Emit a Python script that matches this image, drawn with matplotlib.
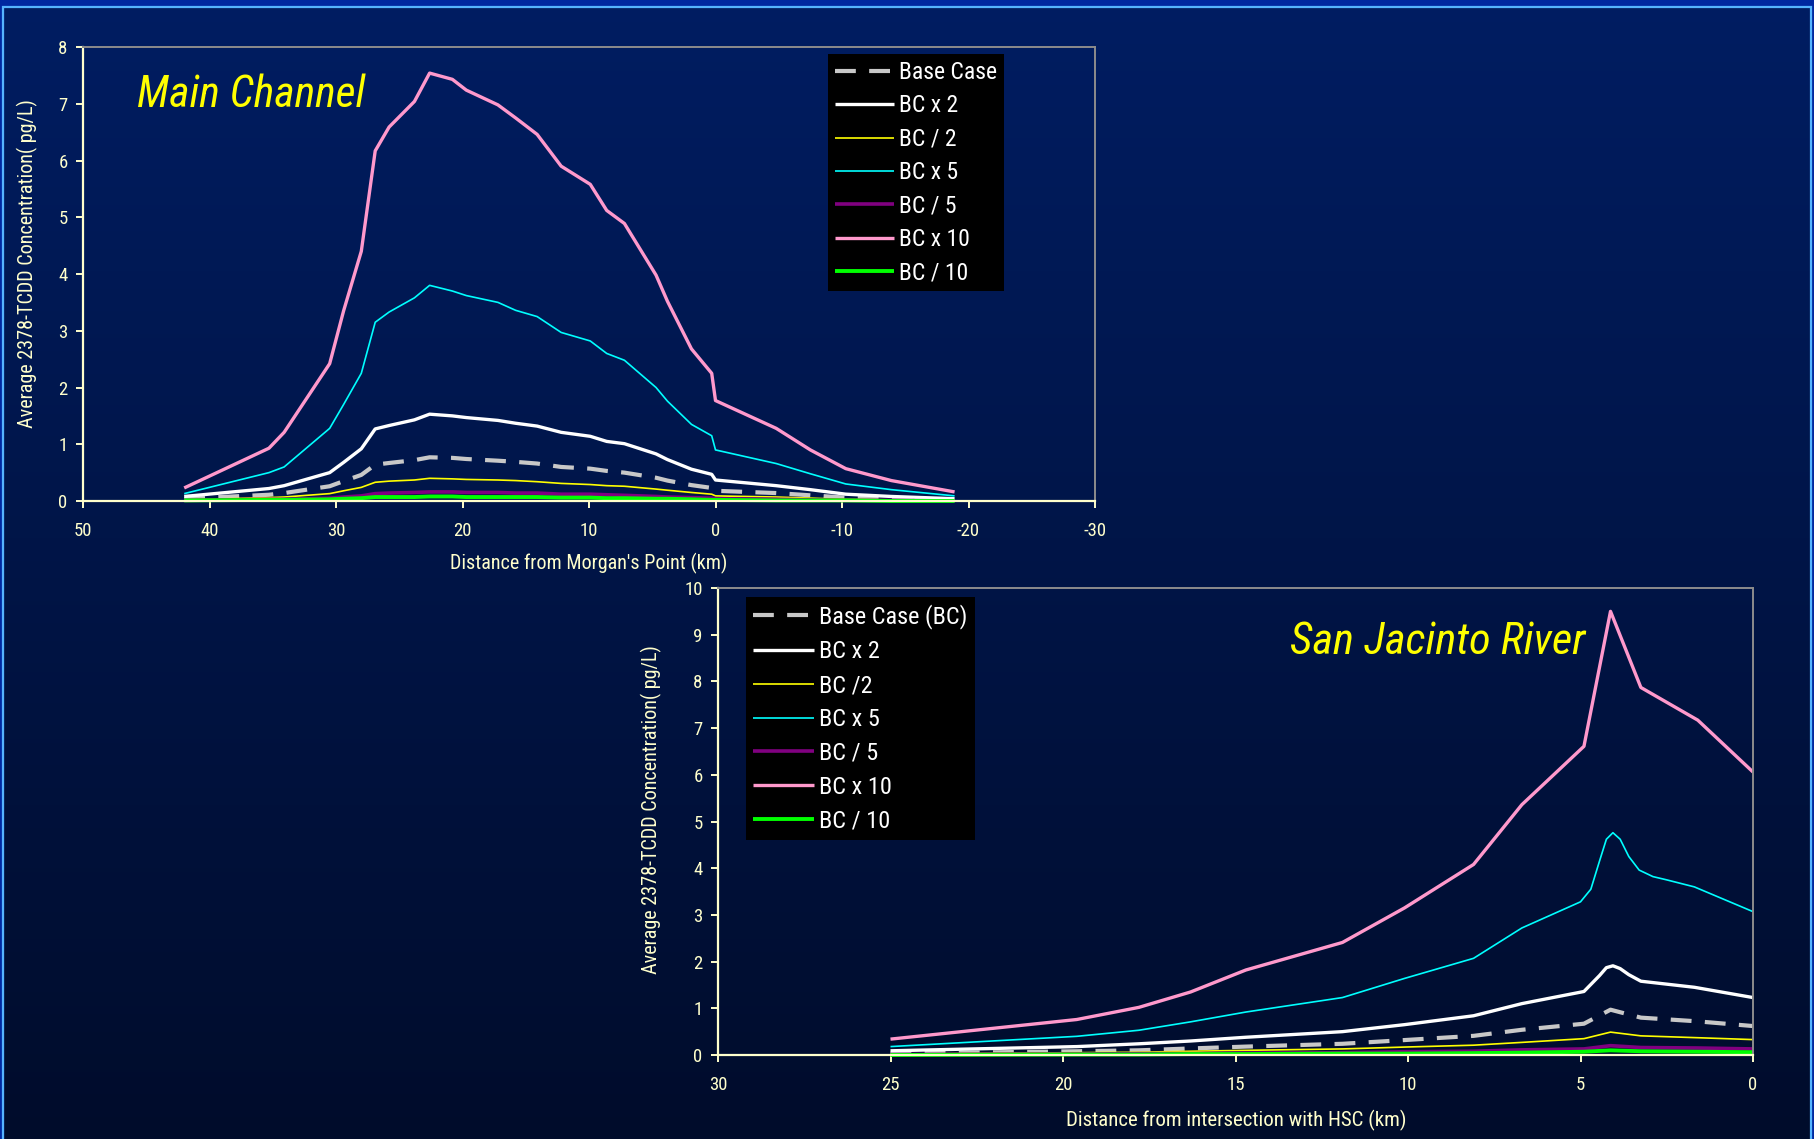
import numpy as np
import matplotlib
matplotlib.use("Agg")
import matplotlib.pyplot as plt
from matplotlib.patches import Rectangle
from matplotlib import font_manager as fm

W, H = 1814, 1139

# ---------------- DATA ----------------
series_labels_top = ["Base Case", "BC x 2", "BC / 2", "BC x 5", "BC / 5", "BC x 10", "BC / 10"]
series_labels_bot = ["Base Case (BC)", "BC x 2", "BC /2", "BC x 5", "BC / 5", "BC x 10", "BC / 10"]

# Main Channel: distance from Morgan's Point (km)
mc_x = [42.0, 35.3, 34.1, 30.5, 29.4, 28.0, 26.9, 25.8, 23.8, 22.6, 20.8, 19.7, 17.2, 15.8, 14.1,
        12.2, 9.9, 8.6, 7.2, 4.7, 3.8, 1.9, 0.3, 0.0, -4.8, -7.5, -10.3, -13.9, -18.9]
mc_base = [0.04, 0.11, 0.14, 0.26, 0.35, 0.46, 0.64, 0.67, 0.72, 0.77, 0.76, 0.74, 0.71, 0.69, 0.66,
           0.60, 0.57, 0.53, 0.50, 0.41, 0.36, 0.28, 0.23, 0.18, 0.14, 0.10, 0.06, 0.04, 0.02]
mc_x2 = [0.08, 0.22, 0.27, 0.50, 0.68, 0.92, 1.27, 1.33, 1.43, 1.53, 1.50, 1.47, 1.42, 1.37, 1.32,
         1.21, 1.14, 1.05, 1.01, 0.83, 0.73, 0.56, 0.47, 0.37, 0.27, 0.20, 0.12, 0.08, 0.04]
mc_d2 = [0.02, 0.06, 0.07, 0.13, 0.18, 0.24, 0.33, 0.35, 0.37, 0.40, 0.39, 0.38, 0.37, 0.36, 0.34,
         0.31, 0.29, 0.27, 0.26, 0.21, 0.19, 0.15, 0.12, 0.09, 0.07, 0.05, 0.03, 0.02, 0.01]
mc_x5 = [0.13, 0.50, 0.60, 1.28, 1.70, 2.25, 3.15, 3.33, 3.58, 3.80, 3.70, 3.62, 3.50, 3.36, 3.25,
         2.97, 2.82, 2.60, 2.48, 2.00, 1.76, 1.35, 1.15, 0.90, 0.66, 0.48, 0.30, 0.20, 0.09]
mc_d5 = [0.01, 0.03, 0.03, 0.05, 0.07, 0.09, 0.13, 0.14, 0.15, 0.16, 0.16, 0.15, 0.15, 0.14, 0.14,
         0.12, 0.12, 0.11, 0.10, 0.08, 0.07, 0.06, 0.05, 0.04, 0.03, 0.02, 0.01, 0.01, 0.00]
mc_x10 = [0.23, 0.93, 1.21, 2.42, 3.35, 4.40, 6.17, 6.59, 7.04, 7.54, 7.43, 7.24, 6.98, 6.75, 6.46,
          5.90, 5.58, 5.12, 4.89, 3.98, 3.52, 2.68, 2.25, 1.77, 1.28, 0.90, 0.57, 0.36, 0.16]
mc_d10 = [0.01, 0.02, 0.02, 0.03, 0.04, 0.05, 0.07, 0.07, 0.07, 0.08, 0.08, 0.07, 0.07, 0.07, 0.07,
          0.06, 0.06, 0.05, 0.05, 0.04, 0.04, 0.03, 0.02, 0.02, 0.01, 0.01, 0.01, 0.00, 0.00]

# San Jacinto River: distance from intersection with HSC (km)
sj_x = [25.0, 19.6, 17.8, 16.3, 14.7, 11.9, 10.1, 8.1, 6.7, 4.9, 4.13, 3.25, 1.6, 0.0]
sj_base = [0.03, 0.08, 0.10, 0.14, 0.18, 0.24, 0.32, 0.41, 0.54, 0.67, 0.97, 0.80, 0.72, 0.62]
sj_x2_x = [25.0, 19.6, 17.8, 16.3, 14.7, 11.9, 10.1, 8.1, 6.7, 4.9, 4.45, 4.25, 4.06, 3.85, 3.6, 3.25, 1.7, 0.0]
sj_x2 = [0.09, 0.18, 0.24, 0.30, 0.38, 0.50, 0.65, 0.84, 1.10, 1.36, 1.70, 1.87, 1.91, 1.85, 1.72, 1.58, 1.45, 1.23]
sj_d2 = [0.02, 0.05, 0.06, 0.08, 0.10, 0.13, 0.17, 0.21, 0.27, 0.35, 0.49, 0.41, 0.37, 0.33]
sj_x5_x = [25.0, 19.6, 17.8, 16.3, 14.7, 11.9, 10.1, 8.1, 6.7, 5.0, 4.7, 4.45, 4.25, 4.06, 3.85, 3.6, 3.3, 2.9,
           2.5, 1.7, 0.0]
sj_x5 = [0.18, 0.40, 0.53, 0.71, 0.92, 1.23, 1.64, 2.07, 2.72, 3.28, 3.55, 4.15, 4.62, 4.76, 4.62, 4.25, 3.96,
         3.82, 3.75, 3.60, 3.07]
sj_d5 = [0.01, 0.02, 0.03, 0.03, 0.04, 0.05, 0.07, 0.08, 0.11, 0.13, 0.20, 0.16, 0.15, 0.13]
sj_x10 = [0.34, 0.76, 1.02, 1.35, 1.82, 2.41, 3.15, 4.08, 5.36, 6.61, 9.50, 7.87, 7.17, 6.06]
sj_d10 = [0.00, 0.01, 0.01, 0.02, 0.02, 0.03, 0.03, 0.04, 0.05, 0.07, 0.10, 0.08, 0.07, 0.06]

top_xticks = [50, 40, 30, 20, 10, 0, -10, -20, -30]
top_yticks = [0, 1, 2, 3, 4, 5, 6, 7, 8]
bot_xticks = [30, 25, 20, 15, 10, 5, 0]
bot_yticks = list(range(0, 11))

# ---------------- STYLE ----------------
names = {f.name for f in fm.fontManager.ttflist}
NARROW = ["Liberation Sans Narrow", "Roboto Condensed", "Liberation Sans", "DejaVu Sans"]
NARROW = [n for n in NARROW if n in names] or ["DejaVu Sans"]
CREAM = "#FFFFCC"
GRAY = "#8C8C8C"

styles = [
    dict(color="#C8C8C8", lw=3.0, dashes=(5, 3.2)),   # base case
    dict(color="white", lw=2.4),                    # x2
    dict(color="#FFFF00", lw=1.2),                  # /2
    dict(color="#00FFFF", lw=1.2),                  # x5
    dict(color="#800080", lw=2.6),                  # /5
    dict(color="#FF99CC", lw=2.4),                  # x10
    dict(color="#00FF00", lw=2.8),                  # /10
]

fig = plt.figure(figsize=(W / 100, H / 100), dpi=100)

# background gradient
bg = fig.add_axes([0, 0, 1, 1], zorder=-10)
grad = np.linspace(0, 1, 256).reshape(-1, 1)
top_c = np.array([0x00, 0x1D, 0x62]) / 255
bot_c = np.array([0x00, 0x0C, 0x2B]) / 255
img = top_c[None, None, :] * (1 - grad[:, :, None]) + bot_c[None, None, :] * grad[:, :, None]
bg.imshow(img, aspect="auto", extent=[0, 1, 0, 1])
bg.set_xlim(0, 1); bg.set_ylim(0, 1)
bg.axis("off")
# frame
bg.add_patch(Rectangle((0, 1 - 5.5 / H), 1, 5.5 / H, color="#0028A0", transform=bg.transAxes, zorder=5))
bg.add_patch(Rectangle((0, 0), 2.5 / W, 1, color="#0028A0", transform=bg.transAxes, zorder=5))
bg.add_patch(Rectangle((1 - 3 / W, 0), 3 / W, 1, color="#0028A0", transform=bg.transAxes, zorder=5))
bg.plot([2.5 / W, 2.5 / W, 1 - 3.5 / W, 1 - 3.5 / W], [0, 1 - 6.5 / H, 1 - 6.5 / H, 0],
        color="#55B4FF", lw=1.6, transform=bg.transAxes, zorder=6, solid_joinstyle="miter")


def px_axes(l, t, r, b):
    return [l / W, 1 - b / H, (r - l) / W, (b - t) / H]


def style_axes(ax, xlim, ylim, xticks, yticks):
    ax.set_facecolor("none")
    ax.set_xlim(*xlim)
    ax.set_ylim(*ylim)
    ax.set_xticks(xticks)
    ax.set_yticks(yticks)
    ax.set_xticklabels([str(v) for v in xticks])
    ax.set_yticklabels([str(v) for v in yticks])
    for s in ("left", "bottom"):
        ax.spines[s].set_color(CREAM); ax.spines[s].set_linewidth(1.6)
    for s in ("top", "right"):
        ax.spines[s].set_color(GRAY); ax.spines[s].set_linewidth(1.4)
    ax.tick_params(axis="both", colors=CREAM, labelcolor=CREAM, direction="out",
                   length=5, width=1.4, labelsize=13.5)
    ax.tick_params(axis="x", pad=10)
    ax.tick_params(axis="y", pad=6)
    for lab in ax.get_xticklabels() + ax.get_yticklabels():
        lab.set_family(NARROW)


def draw(ax, xs_list, ys_list, labels):
    handles = []
    for xs, ys, st, lab in zip(xs_list, ys_list, styles, labels):
        kw = dict(color=st["color"], lw=st["lw"], label=lab, solid_joinstyle="round",
                  solid_capstyle="butt", clip_on=False)
        if "dashes" in st:
            kw["dashes"] = st["dashes"]
        h, = ax.plot(xs, ys, **kw)
        handles.append(h)
    return handles


# ---- top: Main Channel ----
ax1 = fig.add_axes(px_axes(83, 47, 1095, 501))
style_axes(ax1, (50, -30), (0, 8), top_xticks, top_yticks)
draw(ax1, [mc_x] * 7, [mc_base, mc_x2, mc_d2, mc_x5, mc_d5, mc_x10, mc_d10], series_labels_top)
leg1 = ax1.legend(loc="upper left", bbox_to_anchor=(828 / W, 1 - 54 / H), bbox_transform=fig.transFigure,
                  borderaxespad=0, frameon=True, fancybox=False, facecolor="black", edgecolor="black",
                  framealpha=1, prop=dict(family=NARROW, size=17), labelcolor="white",
                  handlelength=2.5, handletextpad=0.22, labelspacing=0.44, borderpad=0.3)
leg1.get_frame().set_linewidth(0)

fig.text(137 / W, 1 - 107 / H, "Main Channel", color="#FFFF00", fontsize=31.5, style="italic",
         family=NARROW, ha="left", va="baseline")
fig.text(589 / W, 1 - 563 / H, "Distance from Morgan's Point (km)", color=CREAM, fontsize=14.5,
         family=NARROW, ha="center", va="center")
fig.text(27 / W, 1 - 264 / H, "Average 2378-TCDD Concentration( pg/L)", color=CREAM, fontsize=14.5,
         family=NARROW, ha="center", va="center", rotation=90)

# ---- bottom: San Jacinto River ----
ax2 = fig.add_axes(px_axes(718, 588, 1753, 1055))
style_axes(ax2, (30, 0), (0, 10), bot_xticks, bot_yticks)
draw(ax2, [sj_x, sj_x2_x, sj_x, sj_x5_x, sj_x, sj_x, sj_x],
     [sj_base, sj_x2, sj_d2, sj_x5, sj_d5, sj_x10, sj_d10], series_labels_bot)
leg2 = ax2.legend(loc="upper left", bbox_to_anchor=(746 / W, 1 - 597 / H), bbox_transform=fig.transFigure,
                  borderaxespad=0, frameon=True, fancybox=False, facecolor="black", edgecolor="black",
                  framealpha=1, prop=dict(family=NARROW, size=17.5), labelcolor="white",
                  handlelength=2.5, handletextpad=0.22, labelspacing=0.45, borderpad=0.3)
leg2.get_frame().set_linewidth(0)

fig.text(1290 / W, 1 - 654 / H, "San Jacinto River", color="#FFFF00", fontsize=32, style="italic",
         family=NARROW, ha="left", va="baseline")
fig.text(1236 / W, 1 - 1120 / H, "Distance from intersection with HSC (km)", color=CREAM, fontsize=15,
         family=NARROW, ha="center", va="center")
fig.text(651 / W, 1 - 810 / H, "Average 2378-TCDD Concentration( pg/L)", color=CREAM, fontsize=14.5,
         family=NARROW, ha="center", va="center", rotation=90)

fig.savefig("out.png", dpi=100)
